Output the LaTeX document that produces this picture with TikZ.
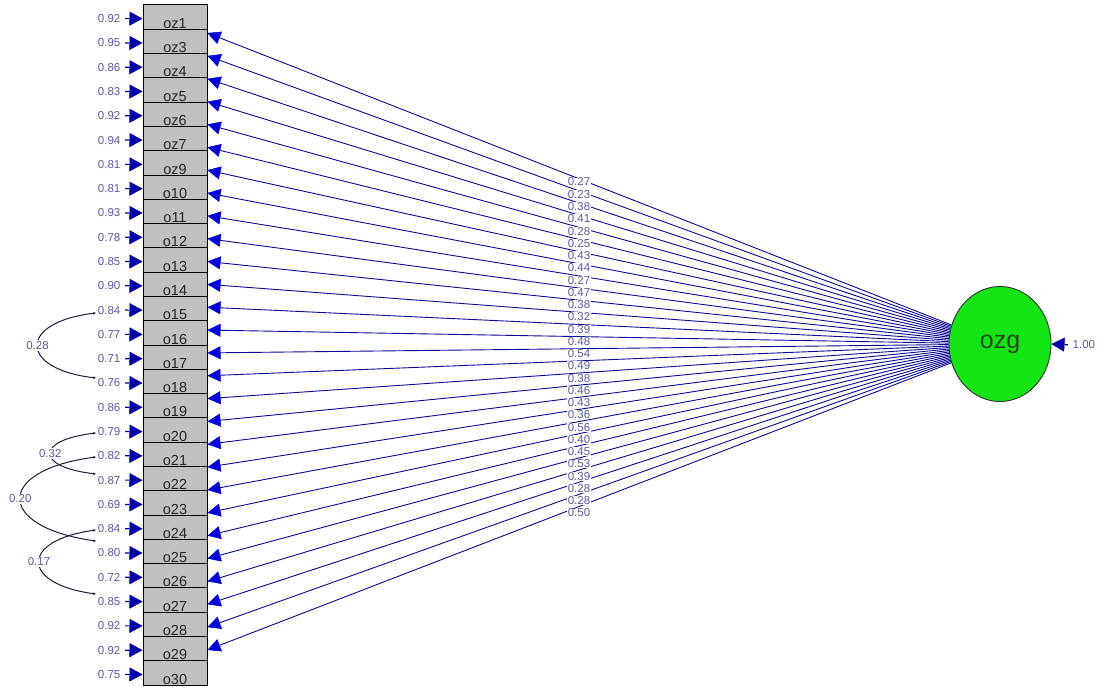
\documentclass[tikz,border=0pt]{standalone}
\usepackage{fontspec}
\setmainfont{Liberation Sans}
\usetikzlibrary{arrows.meta,calc,shapes.geometric}
\definecolor{boxgrey}{RGB}{192,192,192}
\definecolor{pathblue}{RGB}{10,10,150}
\definecolor{tipblue}{RGB}{0,0,215}
\definecolor{errblue}{RGB}{0,0,165}
\definecolor{labgrey}{RGB}{90,90,160}
\definecolor{ozggreen}{RGB}{20,228,20}
\definecolor{ozgtext}{RGB}{35,75,35}
\definecolor{covline}{RGB}{30,30,60}
\begin{document}
\begin{tikzpicture}[x=1pt,y=-1pt,
  obsbox/.style={draw=black, line width=1pt, fill=boxgrey, minimum width=64pt,
    inner sep=0pt, text height=23.3pt, text depth=1pt,
    font=\fontsize{14.5}{16}\selectfont, text=black!85},
  errlab/.style={inner sep=0.5pt, text=labgrey, font=\fontsize{11.5}{13}\selectfont},
  plab/.style={fill=white, inner sep=0.4pt, text=labgrey, font=\fontsize{11.5}{13}\selectfont},
  covlab/.style={fill=white, inner sep=1pt, text=labgrey, font=\fontsize{11.5}{13}\selectfont},
  errarrow/.style={draw=errblue, line width=1.2pt, shorten <=4pt,
    -{Triangle[length=13pt,width=14pt,color=errblue,line width=0.5pt]}},
  pathline/.style={draw=pathblue, line width=0.9pt,
    -{Triangle[length=13pt,width=13pt,color=tipblue,line width=0.5pt]}},
  covline/.style={draw=covline, line width=1pt,
    {Stealth[length=3pt,width=2.5pt]}-{Stealth[length=3pt,width=2.5pt]}},
  latent/.style={ellipse, draw=black!80, line width=0.9pt, fill=ozggreen,
    minimum width=102pt, minimum height=115pt, inner sep=0pt,
    font=\fontsize{25}{28}\selectfont, text=ozgtext}
]
\useasboundingbox[fill=white] (0,0) rectangle (1099,686);

% observed boxes with error terms
\foreach \n/\v [count=\i from 0] in {oz1/0.92,oz3/0.95,oz4/0.86,oz5/0.83,oz6/0.92,oz7/0.94,oz9/0.81,o10/0.81,o11/0.93,o12/0.78,o13/0.85,o14/0.90,o15/0.84,o16/0.77,o17/0.71,o18/0.76,o19/0.86,o20/0.79,o21/0.82,o22/0.87,o23/0.69,o24/0.84,o25/0.80,o26/0.72,o27/0.85,o28/0.92,o29/0.92,o30/0.75}{
  \node[obsbox] (b\i) at (175,{17.14+24.29*\i}) {\n};
}
\foreach \n/\v [count=\i from 0] in {oz1/0.92,oz3/0.95,oz4/0.86,oz5/0.83,oz6/0.92,oz7/0.94,oz9/0.81,o10/0.81,o11/0.93,o12/0.78,o13/0.85,o14/0.90,o15/0.84,o16/0.77,o17/0.71,o18/0.76,o19/0.86,o20/0.79,o21/0.82,o22/0.87,o23/0.69,o24/0.84,o25/0.80,o26/0.72,o27/0.85,o28/0.92,o29/0.92,o30/0.75}{
  \node[errlab, anchor=east] (e\i) at (121,{18.6+24.29*\i}) {\v};
  \draw[errarrow] (e\i.east) -- ($(b\i.west)+(0,1.5)$);
}

% latent variable
\node[latent] (ozg) at (1000,344) {ozg};
\node[errlab, anchor=west] (ez) at (1072,345) {1.00};
\draw[errarrow] (ez.west) -- (ozg.east);

% loadings
\foreach \v [count=\i from 0] in {0.27,0.23,0.38,0.41,0.28,0.25,0.43,0.44,0.27,0.47,0.38,0.32,0.39,0.48,0.54,0.49,0.38,0.46,0.43,0.36,0.56,0.40,0.45,0.53,0.39,0.28,0.28,0.50}{
  \draw[pathline] (ozg) -- ($(b\i.east)+(0,{15.86-1.44*\i})$);
}
\foreach \v [count=\i from 0] in {0.27,0.23,0.38,0.41,0.28,0.25,0.43,0.44,0.27,0.47,0.38,0.32,0.39,0.48,0.54,0.49,0.38,0.46,0.43,0.36,0.56,0.40,0.45,0.53,0.39,0.28,0.28,0.50}{
  \node[plab] (p\i) at (579,{182+12.26*\i}) {\v};
}

% covariances between error terms
\coordinate (ca1) at (96,313);  \coordinate (cb1) at (96,378);
\coordinate (ca2) at (96,433);  \coordinate (cb2) at (96,474);
\coordinate (ca3) at (96,457);  \coordinate (cb3) at (96,541);
\coordinate (ca4) at (96,530);  \coordinate (cb4) at (96,594);
\draw[covline] (ca1) .. controls (18,322) and (18,369) .. (cb1) node[covlab, pos=0.5] (k1) {0.28};
\draw[covline] (ca2) .. controls (35,440) and (35,467) .. (cb2) node[covlab, pos=0.5] (k2) {0.32};
\draw[covline] (ca3) .. controls (-5,470) and (-5,527) .. (cb3) node[covlab, pos=0.5] (k3) {0.20};
\draw[covline] (ca4) .. controls (20,540) and (20,584) .. (cb4) node[covlab, pos=0.5] (k4) {0.17};
\end{tikzpicture}
\end{document}
